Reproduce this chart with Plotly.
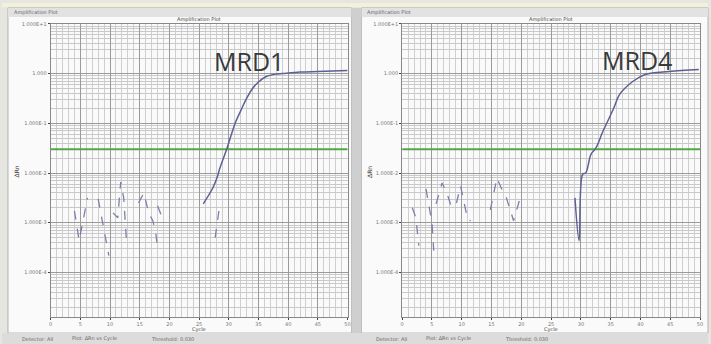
import plotly.graph_objects as go

# ---------------- data ----------------
threshold = 0.03
mrd1_noise_cycle = [4.0, 4.8, 6.2, None, 8.0, 8.8, 9.8, None, 10.5, 11.3, 11.8, 12.3, 12.8, None,
                    14.8, 15.7, 16.5, 17.2, 17.7, 18.0, None, 18.0, 18.8, None, 27.7, 28.5]
mrd1_noise_val = [0.00174, 0.000437, 0.00316, None, 0.00302, 0.001, 0.000219, None, 0.00158, 0.00126,
                  0.00661, 0.00316, 0.00038, None, 0.00251, 0.00398, 0.00158, 0.0011, 0.00063, 0.000316,
                  None, 0.00219, 0.00126, None, 0.0005, 0.0024]
mrd1_amp_cycle = [25.7, 27.3, 28.0, 28.5, 29.7, 30.5, 31.2, 32.0, 33.0, 34.0, 35.0, 36.3, 38.0, 39.0,
                  42.0, 45.0, 50.0]
mrd1_amp_val = [0.0024, 0.005, 0.00794, 0.0126, 0.0316, 0.0631, 0.11, 0.178, 0.316, 0.501, 0.676,
                0.871, 0.977, 1.0, 1.07, 1.10, 1.15]

mrd4_noise_cycle = [1.7, 2.3, 2.8, None, 4.0, 5.0, 5.3, None, 5.7, 6.7, 7.5, 8.2, 9.0, 9.8, 11.0, 11.5,
                    None, 14.8, 15.9, 17.0, 17.5, 18.7, 19.8]
mrd4_noise_val = [0.002, 0.00126, 0.000347, None, 0.00479, 0.001, 0.000275, None, 0.0024, 0.00631,
                  0.00398, 0.00219, 0.00219, 0.0055, 0.00115, 0.0011, None, 0.00182, 0.00794, 0.00398,
                  0.00316, 0.0011, 0.00316]
mrd4_amp_cycle = [29.0, 29.7, 30.3, 30.8, 31.7, 32.5, 33.7, 34.5, 35.5, 36.5, 38.7, 40.8, 44.8, 49.8]
mrd4_amp_val = [0.00316, 0.000437, 0.00955, 0.01, 0.024, 0.0316, 0.0692, 0.11, 0.2, 0.38, 0.692,
                0.955, 1.10, 1.2]

x_ticks = [0, 5, 10, 15, 20, 25, 30, 35, 40, 45, 50]
y_tickvals = [1e-4, 1e-3, 1e-2, 1e-1, 1, 10]
y_ticktext = ["1.000E-4", "1.000E-3", "1.000E-2", "1.000E-1", "1.000", "1.000E+1"]
labels = ["MRD1", "MRD4"]

W, H = 711, 344
def px(x):
    return x / W
def py(y):
    return 1 - y / H

fig = go.Figure()

panels = [
    dict(xa="x", ya="y", nc=mrd1_noise_cycle, nv=mrd1_noise_val, ac=mrd1_amp_cycle, av=mrd1_amp_val),
    dict(xa="x2", ya="y2", nc=mrd4_noise_cycle, nv=mrd4_noise_val, ac=mrd4_amp_cycle, av=mrd4_amp_val),
]
for p in panels:
    fig.add_trace(go.Scatter(x=[0, 50], y=[threshold, threshold], mode="lines",
                             line=dict(color="#52a844", width=2), xaxis=p["xa"], yaxis=p["ya"],
                             showlegend=False, hoverinfo="skip"))
    fig.add_trace(go.Scatter(x=p["nc"], y=p["nv"], mode="lines", connectgaps=False,
                             line=dict(color="#7c80aa", width=1.3, dash="dash"),
                             xaxis=p["xa"], yaxis=p["ya"], showlegend=False))
    fig.add_trace(go.Scatter(x=p["ac"], y=p["av"], mode="lines", line_shape="spline",
                             line=dict(color="#5d6092", width=1.5),
                             xaxis=p["xa"], yaxis=p["ya"], showlegend=False))

# plot-area positions (px)
left_dom = [px(49), px(348)]
right_dom = [px(403), px(703)]
ydom = [py(317), py(21)]

xcommon = dict(range=[0, 50], tickvals=x_ticks, ticks="outside", ticklen=2,
               tickfont=dict(size=5, color="#777"), showgrid=True, gridcolor="#9a9a9a", gridwidth=1,
               minor=dict(dtick=1, showgrid=True, gridcolor="#cfcfcf"),
               showline=True, linecolor="#888", mirror=True, zeroline=False)
ycommon = dict(type="log", range=[-4.9, 1.0], tickvals=y_tickvals, ticktext=y_ticktext,
               ticks="outside", ticklen=2, tickfont=dict(size=5, color="#777"),
               showgrid=True, gridcolor="#9a9a9a",
               minor=dict(dtick="D1", showgrid=True, gridcolor="#c9c9c9"),
               showline=True, linecolor="#888", mirror=True, zeroline=False)

fig.update_layout(
    width=W, height=H, margin=dict(l=0, r=0, t=0, b=0),
    paper_bgcolor="#e6e6e0", plot_bgcolor="white",
    xaxis=dict(domain=left_dom, anchor="y", **xcommon),
    yaxis=dict(domain=ydom, anchor="x", **ycommon),
    xaxis2=dict(domain=right_dom, anchor="y2", **xcommon),
    yaxis2=dict(domain=ydom, anchor="x2", **ycommon),
    font=dict(family="DejaVu Sans"),
)

shapes = []
def rect(x0, y0, x1, y1, color, line=None):
    shapes.append(dict(type="rect", xref="paper", yref="paper", x0=px(x0), x1=px(x1),
                       y0=py(y1), y1=py(y0), fillcolor=color,
                       line=dict(width=0) if line is None else dict(color=line, width=1),
                       layer="below"))
rect(0, 0, 711, 4, "#f3f1da")
rect(6, 5, 352, 333, "#fafafa", "#b0b0b0")
rect(6, 5, 352, 14, "#e2e2e2")
rect(362, 5, 711, 333, "#fafafa", "#b0b0b0")
rect(362, 5, 711, 14, "#e2e2e2")
rect(352, 5, 362, 344, "#cfcfcf")
rect(0, 333, 711, 344, "#dcdcdc")
fig.update_layout(shapes=shapes)

ann = []
def text(x, y, s, size=5, color="#666", angle=0, xanchor="center", family="DejaVu Sans"):
    ann.append(dict(x=px(x), y=py(y), xref="paper", yref="paper", text=s, showarrow=False,
                    font=dict(size=size, color=color, family=family), xanchor=xanchor,
                    yanchor="middle", textangle=angle))
for x0, xc, xl in [(10, 198, 15), (366, 553, 370)]:
    text(x0, 10, "Amplification Plot", xanchor="left")
    text(xc, 17, "Amplification Plot", color="#444")
    text(xc, 329.5, "Cycle", color="#444")
    text(xl, 170, "ΔRn", size=6, color="#333", angle=-90)
text(249, 59, labels[0], size=25, color="#3a3a3a", family="Open Sans")
text(640, 58, labels[1], size=25, color="#3a3a3a", family="Open Sans")
for x0 in [18, 375]:
    text(x0, 338.5, "Detector: All", xanchor="left")
    text(x0 + 50, 338.5, "Plot: ΔRn vs Cycle", xanchor="left")
    text(x0 + 130, 338.5, "Threshold: 0.030", xanchor="left")
fig.update_layout(annotations=ann)

fig.write_html("out.html", config={"displayModeBar": False},
               post_script="document.body.style.margin='0';document.body.style.overflow='hidden';")
